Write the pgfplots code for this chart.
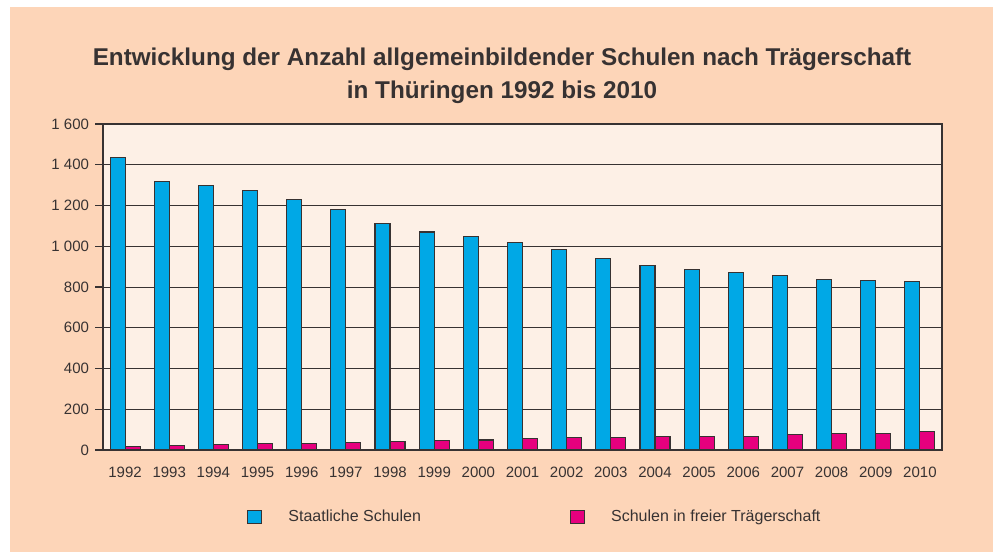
\documentclass[border=0pt]{standalone}
\usepackage{pgfplots}
\pgfplotsset{compat=1.18}
\usepackage{fontspec}
\setmainfont{Liberation Sans}
\definecolor{peach}{RGB}{253,213,184}
\definecolor{plotbg}{RGB}{253,240,230}
\definecolor{sblue}{RGB}{0,168,230}
\definecolor{spink}{RGB}{230,0,126}
\definecolor{gridc}{RGB}{55,50,50}
\begin{document}
\begin{tikzpicture}[x=0.75pt,y=0.75pt]
\fill[white] (0,0) rectangle (995,552);
\fill[peach] (10,0) rectangle (993,545);
\node[font=\bfseries\fontsize{18.2}{24.75}\selectfont, text=gridc, align=center] at (502,476) {Entwicklung der Anzahl allgemeinbildender Schulen nach Trägerschaft\\in Thüringen 1992 bis 2010};
\begin{axis}[
  at={(77.25pt,76.5pt)}, anchor=south west,
  width=629.25pt, height=244.5pt, scale only axis,
  axis background/.style={fill=plotbg},
  xmin=1991.5, xmax=2010.5,
  ymin=0, ymax=1600,
  xtick={1992,1993,1994,1995,1996,1997,1998,1999,2000,2001,2002,2003,2004,2005,2006,2007,2008,2009,2010},
  xticklabels={1992,1993,1994,1995,1996,1997,1998,1999,2000,2001,2002,2003,2004,2005,2006,2007,2008,2009,2010},
  ytick={0,200,...,1600},
  ytick pos=left,
  major x tick style={draw=none},
  ytick style={draw=gridc, line width=0.8pt},
  tick align=outside, major tick length=6pt,
  ymajorgrids, grid style={gridc, line width=0.7pt},
  axis line style={gridc, line width=1pt},
  /pgf/number format/assume math mode=true,
  /pgf/number format/1000 sep={\ },
  tick label style={font=\fontsize{11.25}{13}\selectfont, text=gridc},
  yticklabel style={xshift=-1pt},
  xticklabel style={yshift=-3pt},
  legend style={at={(axis description cs:0.1716,-0.2055)}, anchor=west, draw=none, fill=none, inner sep=0pt,
    legend columns=2, font=\fontsize{12}{14}\selectfont, text=gridc,
    nodes={inner sep=0pt},
    /tikz/every odd column/.append style={column sep=19.5pt},
    /tikz/every even column/.append style={column sep=111.75pt}},
  legend cell align=left,
  legend image code/.code={\draw[#1, draw=gridc, line width=0.9pt] (0pt,-4.9pt) rectangle (10.5pt,4.9pt);},
]
\addplot[ybar, bar width=11.25pt, bar shift=-5.625pt, fill=sblue, draw=gridc, line width=0.8pt] coordinates {
(1992,1435) (1993,1319) (1994,1300) (1995,1275) (1996,1231) (1997,1180) (1998,1110) (1999,1070) (2000,1046)
(2001,1020) (2002,985) (2003,941) (2004,907) (2005,884) (2006,869) (2007,858) (2008,836) (2009,830) (2010,826)};
\addlegendentry{Staatliche Schulen}
\addplot[ybar, bar width=11.25pt, bar shift=5.625pt, fill=spink, draw=gridc, line width=0.8pt] coordinates {
(1992,18) (1993,23) (1994,29) (1995,34) (1996,34) (1997,39) (1998,43) (1999,46) (2000,49)
(2001,56) (2002,61) (2003,61) (2004,64) (2005,64) (2006,67) (2007,74) (2008,79) (2009,83) (2010,90)};
\addlegendentry{Schulen in freier Trägerschaft}
\end{axis}
\end{tikzpicture}
\end{document}
